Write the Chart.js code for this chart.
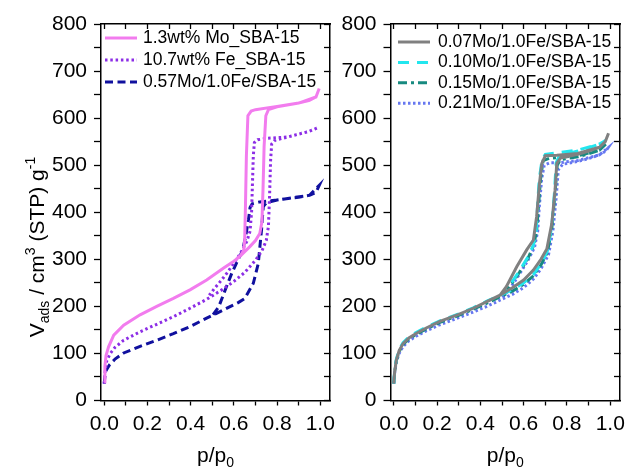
<!DOCTYPE html>
<html><head><meta charset="utf-8">
<script src="https://cdn.jsdelivr.net/npm/chart.js@4"></script>
<style>
html,body{margin:0;padding:0;background:#fff;width:625px;height:471px;overflow:hidden}
canvas{position:absolute;top:0}
#c1{left:0}
#c2{left:335px}
</style></head>
<body>
<canvas id="c1" width="335" height="471"></canvas>
<canvas id="c2" width="290" height="471"></canvas>
<script>
// ---- tick values ----
const xTickValues = [0, 0.1, 0.2, 0.3, 0.4, 0.5, 0.6, 0.7, 0.8, 0.9, 1.0];
const yTickValues = [0, 50, 100, 150, 200, 250, 300, 350, 400, 450, 500, 550, 600, 650, 700, 750, 800];

// ---- series names ----
const leftLabels = ['1.3wt% Mo_SBA-15', '10.7wt% Fe_SBA-15', '0.57Mo/1.0Fe/SBA-15'];
const rightLabels = ['0.07Mo/1.0Fe/SBA-15', '0.10Mo/1.0Fe/SBA-15', '0.15Mo/1.0Fe/SBA-15', '0.21Mo/1.0Fe/SBA-15'];

// ---- left panel: adsorption then desorption (p/p0, V) ----
const moP = [0, 0.003, 0.008, 0.02, 0.044, 0.09, 0.166, 0.243, 0.32, 0.397, 0.474, 0.551, 0.6, 0.628, 0.674, 0.7, 0.72, 0.73, 0.735, 0.74, 0.748, 0.76, 0.8, 0.9, 0.95, 0.98, 0.995, 0.98, 0.9, 0.8, 0.7, 0.68, 0.665, 0.658, 0.654, 0.65, 0.645, 0.63, 0.61];
const moV = [40, 72, 95, 114, 139, 160, 182, 200, 217, 235, 256, 281, 296, 306, 327, 340, 355, 380, 450, 540, 605, 618, 624, 632, 638, 645, 663, 645, 632, 625, 618, 615, 605, 520, 420, 340, 318, 308, 300];

const feP = [0, 0.004, 0.012, 0.028, 0.05, 0.09, 0.166, 0.243, 0.32, 0.397, 0.474, 0.551, 0.6, 0.65, 0.7, 0.73, 0.75, 0.76, 0.765, 0.77, 0.775, 0.79, 0.85, 0.9, 0.95, 0.99, 0.95, 0.85, 0.75, 0.71, 0.695, 0.69, 0.686, 0.682, 0.675, 0.66, 0.63, 0.6, 0.57, 0.543, 0.51, 0.48];
const feV = [36, 62, 85, 100, 113, 128, 146, 162, 178, 196, 215, 237, 253, 272, 298, 318, 340, 370, 430, 510, 545, 553, 560, 566, 572, 580, 572, 560, 557, 554, 548, 520, 460, 400, 360, 338, 312, 292, 272, 256, 238, 220];

const moFeP = [0, 0.003, 0.01, 0.025, 0.05, 0.09, 0.166, 0.243, 0.32, 0.397, 0.474, 0.52, 0.58, 0.62, 0.651, 0.69, 0.713, 0.728, 0.736, 0.75, 0.8, 0.9, 0.95, 0.98, 0.995, 0.95, 0.8, 0.72, 0.685, 0.675, 0.668, 0.655, 0.64, 0.62, 0.59, 0.56, 0.53, 0.5];
const moFeV = [36, 52, 65, 76, 88, 101, 115, 128, 142, 157, 175, 185, 199, 208, 217, 249, 291, 362, 412, 420, 426, 432, 436, 442, 457, 436, 426, 422, 418, 410, 385, 350, 318, 300, 270, 235, 199, 180];

// ---- right panel ----
const mo07P = [0, 0.004, 0.012, 0.025, 0.043, 0.07, 0.105, 0.15, 0.213, 0.3, 0.367, 0.43, 0.491, 0.55, 0.6, 0.645, 0.68, 0.707, 0.73, 0.745, 0.753, 0.77, 0.85, 0.9, 0.95, 0.977, 0.992, 0.977, 0.95, 0.85, 0.753, 0.7, 0.684, 0.673, 0.66, 0.645, 0.614, 0.568, 0.52, 0.491];
const mo07V = [36, 60, 86, 106, 121, 133, 143, 154, 168, 183, 196, 210, 224, 240, 256, 277, 300, 322, 376, 447, 504, 515, 523, 530, 538, 550, 568, 550, 538, 525, 521, 520, 504, 461, 391, 341, 320, 284, 242, 224];

const mo10P = [0, 0.004, 0.012, 0.025, 0.043, 0.07, 0.105, 0.15, 0.213, 0.3, 0.367, 0.43, 0.49, 0.55, 0.6, 0.645, 0.68, 0.71, 0.73, 0.742, 0.75, 0.765, 0.85, 0.9, 0.95, 0.98, 0.95, 0.85, 0.75, 0.7, 0.685, 0.672, 0.665, 0.658, 0.645, 0.62, 0.58, 0.54, 0.5];
const mo10V = [36, 62, 88, 108, 123, 135, 145, 156, 169, 184, 197, 211, 223, 236, 250, 268, 290, 318, 370, 440, 505, 520, 530, 537, 545, 553, 545, 532, 526, 523, 512, 470, 420, 360, 330, 305, 275, 248, 226];

const mo15P = [0, 0.004, 0.012, 0.025, 0.043, 0.07, 0.105, 0.15, 0.213, 0.3, 0.367, 0.43, 0.49, 0.55, 0.6, 0.645, 0.68, 0.71, 0.73, 0.745, 0.755, 0.77, 0.85, 0.9, 0.95, 0.98, 0.95, 0.85, 0.75, 0.72, 0.69, 0.678, 0.668, 0.66, 0.645, 0.62, 0.58, 0.54, 0.5];
const mo15V = [36, 60, 85, 104, 119, 131, 141, 152, 166, 181, 194, 207, 220, 233, 247, 265, 288, 315, 365, 440, 500, 512, 518, 524, 532, 545, 532, 520, 516, 515, 510, 470, 410, 360, 328, 302, 272, 245, 222];

const mo21P = [0, 0.004, 0.012, 0.025, 0.043, 0.07, 0.105, 0.15, 0.213, 0.3, 0.367, 0.43, 0.49, 0.55, 0.6, 0.645, 0.68, 0.715, 0.735, 0.75, 0.76, 0.78, 0.85, 0.9, 0.95, 0.98, 0.99, 0.95, 0.85, 0.76, 0.72, 0.695, 0.683, 0.672, 0.665, 0.65, 0.62, 0.58, 0.54, 0.5];
const mo21V = [36, 58, 82, 100, 115, 127, 137, 148, 161, 176, 188, 200, 213, 226, 240, 258, 280, 310, 360, 430, 490, 502, 508, 514, 522, 530, 537, 522, 510, 505, 505, 500, 470, 410, 360, 325, 298, 268, 240, 218];

const FONT = "'Liberation Sans', Arial, Helvetica, sans-serif";

function pts(p, v) { return p.map((x, i) => ({ x: x, y: v[i] })); }

function ds(label, p, v, color, dash) {
  return { label: label, data: pts(p, v), showLine: true, borderColor: color, backgroundColor: color,
           borderWidth: 3, borderDash: dash, pointRadius: 0, tension: 0, fill: false };
}

const insetLegend = {
  id: 'insetLegend',
  afterDraw(chart, args, o) {
    const ctx = chart.ctx;
    ctx.save();
    ctx.font = o.fontSize + 'px ' + FONT;
    ctx.textBaseline = 'middle';
    ctx.textAlign = 'left';
    chart.data.datasets.forEach((d, i) => {
      const y = o.y + i * o.gap;
      ctx.strokeStyle = d.borderColor;
      ctx.lineWidth = d.borderWidth;
      ctx.setLineDash(d.borderDash || []);
      ctx.beginPath(); ctx.moveTo(o.x, y); ctx.lineTo(o.x + o.len, y); ctx.stroke();
      ctx.setLineDash([]);
      ctx.fillStyle = '#000';
      ctx.fillText(d.label, o.textX, y);
    });
    ctx.restore();
  }
};

function drawRuns(ctx, runs, cx, y) {
  let w = 0;
  runs.forEach(r => { ctx.font = r[1] + 'px ' + FONT; w += ctx.measureText(r[0]).width; });
  let x = cx - w / 2;
  runs.forEach(r => { ctx.font = r[1] + 'px ' + FONT; ctx.fillText(r[0], x, y + r[2]); x += ctx.measureText(r[0]).width; });
}

const axisTitles = {
  id: 'axisTitles',
  afterDraw(chart, args, o) {
    const ctx = chart.ctx, a = chart.chartArea;
    ctx.save();
    ctx.fillStyle = '#000';
    ctx.textBaseline = 'alphabetic';
    ctx.textAlign = 'left';
    drawRuns(ctx, [['p/p', 21, 0], ['0', 14, 5]], (a.left + a.right) / 2, o.xTitleY);
    if (o.yTitle) {
      ctx.translate(o.yTitleX, o.yTitleCY);
      ctx.rotate(-Math.PI / 2);
      drawRuns(ctx, [['V', 21, 0], ['ads', 14, 5], [' / cm', 21, 0], ['3', 14, -9], [' (STP) g', 21, 0], ['-1', 14, -9]], 0, 0);
    }
    ctx.restore();
  }
};

function makeScales(yWidth) {
  const tickFont = { family: FONT, size: 21 };
  const noPad = s => { s.paddingLeft = 0; s.paddingRight = 0; s.paddingTop = 0; s.paddingBottom = 0; };
  const xTicks = s => { s.ticks = xTickValues.map(v => ({ value: v })); };
  const yTicks = s => { s.ticks = yTickValues.map(v => ({ value: v })); };
  const border = { display: true, color: '#000', width: 1.5 };
  return {
    x: { type: 'linear', position: 'bottom', min: -0.015, max: 1.045,
         afterBuildTicks: xTicks, afterFit: s => { s.height = 70.5; noPad(s); },
         ticks: { callback: (v, i) => (i % 2 === 0 ? Number(v).toFixed(1) : ''), font: tickFont, color: '#000', padding: 6.5, maxRotation: 0, autoSkip: false },
         grid: { display: true, drawOnChartArea: false, drawTicks: true, tickLength: 5, tickColor: '#000', tickWidth: 1.3 },
         border: border },
    x2: { type: 'linear', axis: 'x', position: 'top', min: -0.015, max: 1.045,
          afterBuildTicks: xTicks, afterFit: s => { s.height = 0; noPad(s); },
          ticks: { display: false },
          grid: { display: true, drawOnChartArea: false, drawTicks: true, tickLength: -5, tickColor: '#000', tickWidth: 1.3 },
          border: border },
    y: { type: 'linear', position: 'left', min: 0, max: 800,
         afterBuildTicks: yTicks, afterFit: s => { s.width = yWidth; noPad(s); },
         ticks: { callback: (v, i) => (i % 2 === 0 ? String(v) : ''), font: tickFont, color: '#000', padding: 7, autoSkip: false },
         grid: { display: true, drawOnChartArea: false, drawTicks: true, tickLength: 7, tickColor: '#000', tickWidth: 1.3 },
         border: border },
    y2: { type: 'linear', axis: 'y', position: 'right', min: 0, max: 800,
          afterBuildTicks: yTicks, afterFit: s => { s.width = 0; noPad(s); },
          ticks: { display: false },
          grid: { display: true, drawOnChartArea: false, drawTicks: true, tickLength: -6, tickColor: '#000', tickWidth: 1.3 },
          border: border }
  };
}

function makeChart(id, datasets, yWidth, legendOpts, titleOpts) {
  return new Chart(document.getElementById(id), {
    type: 'scatter',
    data: { datasets: datasets },
    options: {
      responsive: false, animation: false, devicePixelRatio: 1,
      layout: { padding: { top: 24, right: 5, left: 0, bottom: 0 } },
      plugins: { legend: { display: false }, tooltip: { enabled: false },
                 insetLegend: legendOpts, axisTitles: titleOpts },
      scales: makeScales(yWidth)
    },
    plugins: [insetLegend, axisTitles]
  });
}

makeChart('c1', [
  ds(leftLabels[0], moP, moV, '#F27CEE', []),
  ds(leftLabels[1], feP, feV, '#8C2DE6', [2.5, 2.8]),
  ds(leftLabels[2], moFeP, moFeV, '#10109E', [8, 4.5])
], 101, { x: 105, len: 32, textX: 143, y: 38, gap: 22, fontSize: 17.5 },
   { xTitleY: 462, yTitle: true, yTitleX: 44, yTitleCY: 247 });

makeChart('c2', [
  ds(rightLabels[0], mo07P, mo07V, '#808080', []),
  ds(rightLabels[1], mo10P, mo10V, '#22E6EE', [11, 8]),
  ds(rightLabels[2], mo15P, mo15V, '#178A80', [9, 4, 3, 4]),
  ds(rightLabels[3], mo21P, mo21V, '#6677F0', [2.5, 2.5])
], 55.5, { x: 63, len: 32, textX: 103, y: 42, gap: 20.4, fontSize: 17.5 },
   { xTitleY: 462, yTitle: false });
</script>
</body></html>
